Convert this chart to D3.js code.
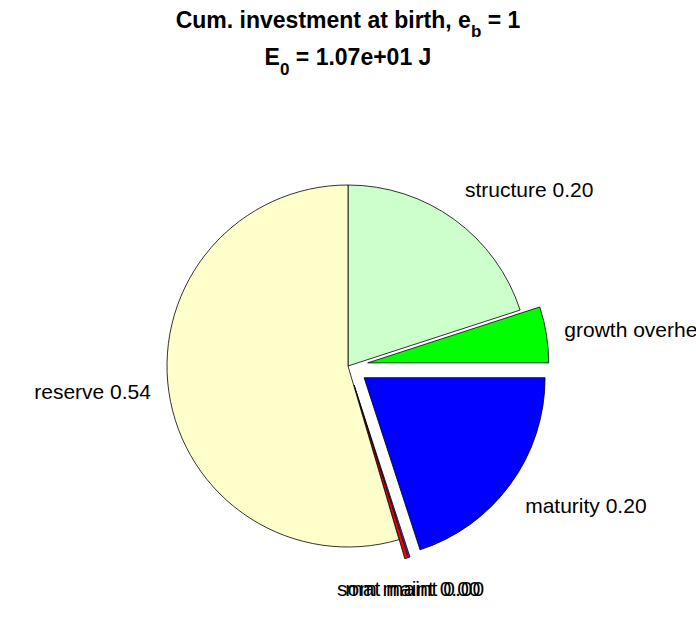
<!DOCTYPE html>
<html><head><meta charset="utf-8">
<script src="https://cdn.jsdelivr.net/npm/d3@7"></script>
<style>body{margin:0;background:#fff}svg{display:block}text{font-family:Arial,"Liberation Sans",Helvetica,sans-serif}</style>
</head><body>
<svg id="c" width="696" height="618"></svg>
<script>
const labels = ["structure", "growth overhead", "maturity", "mat maint", "som maint", "reserve"];
const values = [0.20, 0.05, 0.20, 0.0015, 0.003, 0.5455];
const shown = ["0.20", "0.05", "0.20", "0.00", "0.00", "0.54"];
const colors = ["#ccffcc", "#00ff00", "#0000ff", "#8e1fb8", "#ff0000", "#ffffcc"];
const explode = [false, true, true, true, true, false];

const svg = d3.select("#c");
const cx = 348, cy = 366, R = 181;
const g = svg.append("g").attr("transform", `translate(${cx},${cy})`);
const pie = d3.pie().sort(null).value(d => d)(values);
const arc = d3.arc().innerRadius(0).outerRadius(R);
const off = 0.11 * R;

pie.forEach((p, i) => {
  const mid = (p.startAngle + p.endAngle) / 2;
  const dx = explode[i] ? off * Math.sin(mid) : 0;
  const dy = explode[i] ? -off * Math.cos(mid) : 0;
  g.append("path").attr("d", arc(p))
    .attr("transform", `translate(${dx},${dy})`)
    .attr("fill", colors[i]).attr("stroke", "#000").attr("stroke-width", 0.8);
});

// labels
let midBase = null;
pie.forEach((p, i) => {
  const mid = (p.startAngle + p.endAngle) / 2;
  const dx = explode[i] ? off * Math.sin(mid) : 0;
  const dy = explode[i] ? -off * Math.cos(mid) : 0;
  let lx = dx + 1.1 * R * Math.sin(mid);
  let ly = dy - 1.1 * R * Math.cos(mid);
  const s = Math.sin(mid), c = Math.cos(mid);
  let anchor = "middle";
  if (s > 0.35) anchor = "start"; else if (s < -0.35) anchor = "end";
  let base;
  if (c > 0.2) base = ly - 8;        // top: text above
  else if (c < -0.2) base = ly + 18;  // bottom: text below
  else base = ly + 5;
  if (anchor === "middle") {
    if (midBase === null) midBase = Math.round(ly + 21);
    base = midBase;
    lx += (i === 3 ? 0 : -3);
  }
  g.append("text").attr("x", lx).attr("y", base)
    .attr("text-anchor", anchor).attr("font-size", "21px").attr("fill", "#000")
    .text(labels[i] + " " + shown[i]);
});

// title
const t1 = svg.append("text").attr("x", 348).attr("y", 28).attr("text-anchor", "middle")
  .attr("font-size", "23px").attr("font-weight", "bold");
t1.append("tspan").text("Cum. investment at birth, e");
t1.append("tspan").attr("font-size", "17px").attr("dy", 9).text("b");
t1.append("tspan").attr("dy", -9).text(" = 1");
const t2 = svg.append("text").attr("x", 348).attr("y", 65).attr("text-anchor", "middle")
  .attr("font-size", "23px").attr("font-weight", "bold");
t2.append("tspan").text("E");
t2.append("tspan").attr("font-size", "17px").attr("dy", 10).text("0");
t2.append("tspan").attr("dy", -10).text(" = 1.07e+01 J");
</script>
</body></html>
